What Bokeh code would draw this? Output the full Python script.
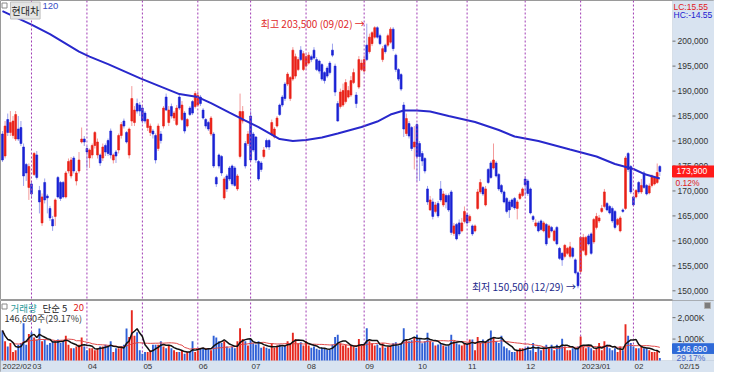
import numpy as np
import pandas as pd
from bokeh.plotting import figure
from bokeh.layouts import column
from bokeh.models import ColumnDataSource, Span, Label, Range1d, BoxAnnotation
from bokeh.embed import file_html
from bokeh.resources import INLINE

# ---------------- data (prices in thousand won, volume in thousand shares) ----------------
opens = [
 181.4,177.0,184.3,181.7,181.1,180.4,182.4,182.7,178.8,175.3,170.7,
 171.4,173.3,177.2,170.1,163.6,171.7,169.0,166.5,164.3,164.9,172.7,171.7,171.7,168.8,174.0,173.0,176.6,172.0,174.0,179.8,180.4,
 178.5,176.6,177.2,179.1,177.2,177.2,176.6,179.1,180.1,182.0,176.2,177.8,178.2,181.1,184.0,181.7,177.2,184.0,183.7,187.5,187.2,
 186.6,185.6,182.7,181.7,182.0,181.1,178.5,181.4,183.0,188.8,183.7,186.9,184.6,183.3,188.8,184.3,185.6,183.0,186.6,187.9,186.9,
 187.2,188.8,186.2,184.3,183.7,181.4,181.4,172.7,177.2,176.9,168.6,173.0,174.6,175.0,174.6,170.4,176.9,184.0,179.5,179.5,
 185.0,181.4,180.8,175.9,175.6,176.9,180.1,180.1,181.4,180.8,183.0,187.2,188.8,191.4,191.4,188.5,192.4,193.0,194.3,198.2,194.3,
 195.0,195.6,196.9,198.2,196.3,196.0,195.3,193.7,194.6,195.6,198.2,195.0,187.5,186.9,187.2,187.9,188.8,189.2,191.7,189.2,190.8,194.3,
 194.0,199.2,197.9,199.5,200.8,202.7,201.1,196.3,199.2,199.2,199.8,202.4,197.2,194.3,193.3,187.2,181.5,183.5,182.7,178.8,
 183.3,179.5,177.5,176.5,170.4,166.2,167.8,165.9,167.5,170.4,167.2,169.1,169.1,169.8,161.5,163.3,163.6,162.0,163.9,
 165.2,164.0,163.0,162.0,166.5,169.8,170.7,167.2,174.3,175.6,174.6,175.6,173.3,171.1,169.8,168.5,167.8,168.2,168.5,166.5,168.5,169.1,
 172.4,172.0,170.4,164.9,163.0,163.6,164.0,162.0,163.3,160.7,162.7,160.1,162.7,158.5,157.5,156.9,157.5,156.9,158.5,156.2,153.6,
 153.9,158.1,157.2,161.0,161.4,159.8,162.7,164.0,165.9,166.9,167.5,166.9,166.5,165.9,163.3,162.0,166.2,166.5,177.5,174.9,
 168.8,168.8,171.7,169.8,173.6,171.1,169.6,171.1,171.4,171.7,174.9]
highs = [
 182.0,184.0,185.5,186.0,185.0,186.0,185.0,184.0,179.5,175.6,175.5,
 172.0,177.8,178.0,171.0,169.5,172.5,169.4,167.0,165.0,168.5,173.0,172.0,172.0,174.0,176.5,176.8,177.0,174.0,177.8,182.7,181.0,
 179.0,178.5,179.5,182.0,180.5,177.5,179.5,179.5,180.5,182.5,177.5,178.2,181.5,183.8,184.5,182.0,182.7,191.0,187.0,188.5,187.8,
 187.0,186.0,184.5,183.5,182.4,181.5,183.5,182.0,187.0,189.5,187.0,187.5,186.0,187.2,189.5,188.0,186.0,184.6,187.0,188.2,190.0,
 190.0,189.2,186.6,184.6,184.0,185.0,181.8,173.0,177.5,177.2,172.8,173.4,175.0,175.3,175.0,173.4,189.5,187.0,180.0,182.0,
 186.0,181.8,181.0,176.2,176.0,178.8,180.5,180.4,184.3,182.8,185.0,187.5,189.2,191.8,193.8,193.0,198.8,197.5,196.8,199.0,198.0,
 197.5,197.8,197.3,198.8,196.8,196.3,195.6,194.0,195.0,196.0,199.5,195.5,188.0,190.5,191.5,192.4,191.0,193.0,194.5,189.8,197.0,196.3,
 197.2,203.5,201.5,202.0,203.0,203.0,201.5,199.0,199.5,201.5,202.8,202.8,197.5,194.6,193.6,187.8,185.5,184.0,183.0,183.0,
 183.6,180.0,178.0,176.8,171.0,169.0,168.5,167.8,168.0,172.0,170.0,169.5,169.5,170.2,163.6,163.6,164.3,164.6,166.9,
 165.6,165.3,163.3,163.3,170.4,172.4,171.0,171.0,174.6,176.0,179.5,176.0,173.6,171.4,170.1,168.8,168.2,168.5,168.8,168.2,169.8,170.7,
 173.0,172.4,170.7,165.2,164.3,164.0,164.3,164.0,163.6,163.3,163.0,162.3,163.0,158.8,157.8,159.4,158.8,159.8,158.8,156.5,153.9,
 161.0,161.4,161.0,161.4,161.7,164.6,165.6,165.2,167.2,170.4,167.8,167.2,166.9,166.2,164.6,165.0,166.5,177.0,177.8,175.2,
 169.1,170.4,172.0,172.4,174.0,171.4,171.5,173.3,173.0,175.5,175.2]
lows = [
 175.8,176.5,181.0,181.0,180.5,180.0,180.0,179.0,171.0,172.0,168.2,
 168.5,173.0,172.3,165.5,163.0,167.5,165.5,164.0,162.0,163.0,168.5,168.0,168.5,168.5,173.5,172.5,173.5,171.1,173.5,179.5,179.0,
 174.6,174.6,176.5,178.5,176.5,175.0,176.0,177.0,177.0,176.5,175.5,175.6,177.5,180.5,182.5,179.5,176.5,183.0,183.0,185.5,185.0,
 183.5,183.5,182.0,181.0,180.5,175.5,178.0,179.5,182.5,186.0,183.0,184.5,184.0,183.0,186.2,184.0,181.5,182.7,185.0,185.2,186.5,
 186.9,187.0,184.3,182.5,182.0,181.0,174.6,170.8,174.5,173.0,168.2,169.8,172.0,171.0,170.8,170.0,176.5,183.5,174.5,179.0,
 175.8,177.8,175.6,172.0,173.8,176.5,178.5,178.2,181.0,180.5,182.7,185.0,186.8,188.0,191.0,188.0,192.0,192.5,194.0,196.0,194.0,
 194.5,195.3,195.8,196.3,194.0,193.5,192.0,191.5,192.6,193.3,196.8,189.0,183.9,186.5,186.8,187.5,188.5,188.8,191.4,186.6,190.4,194.0,
 193.7,196.0,197.5,199.0,200.5,200.5,199.2,195.8,197.5,198.8,199.5,198.0,193.8,192.0,190.0,180.8,181.0,180.5,178.0,174.3,
 172.0,172.0,175.0,173.5,167.2,166.0,164.3,165.5,164.6,167.8,166.8,166.5,165.8,161.2,161.0,160.1,161.0,161.7,163.5,
 163.3,163.6,161.0,161.7,166.2,169.4,169.0,166.9,171.4,172.4,174.3,172.7,170.0,169.4,167.5,165.5,164.6,166.5,166.2,164.3,168.2,168.8,
 169.0,169.0,165.3,163.8,162.7,161.7,162.0,161.7,159.0,160.4,161.7,159.8,159.1,156.2,155.0,156.5,157.2,156.5,156.5,153.3,150.5,
 153.6,157.8,156.9,159.1,157.2,159.4,162.3,163.6,165.6,166.5,165.9,165.3,163.6,162.3,163.0,161.7,165.6,166.2,173.8,169.4,
 166.9,168.5,169.4,169.4,170.4,169.1,169.3,170.7,171.1,171.4,173.0]
closes = [
 176.2,183.0,181.7,183.7,184.0,185.3,180.4,179.5,173.0,173.6,174.9,
 169.4,177.5,172.7,167.8,168.8,168.2,168.6,164.6,163.0,168.2,168.8,168.5,168.8,173.6,175.9,176.2,174.0,173.6,176.2,180.4,179.8,
 177.8,178.2,179.1,181.7,179.8,175.6,178.8,177.8,177.5,177.2,177.2,177.0,181.1,183.3,183.0,179.8,182.4,188.5,186.2,186.0,186.0,
 184.0,184.0,184.3,183.0,181.4,176.2,183.0,180.1,186.6,186.2,186.2,185.0,185.6,186.6,186.6,187.2,182.0,184.3,185.3,185.6,189.5,
 189.1,187.5,184.6,183.0,182.4,184.6,175.0,171.4,175.0,173.6,172.4,170.4,172.4,171.4,171.1,173.0,185.9,185.9,175.0,181.4,
 176.2,178.2,176.2,172.4,174.3,178.2,178.8,178.8,183.7,182.4,184.6,185.3,187.2,188.5,193.4,192.7,198.2,196.9,196.3,196.3,197.5,
 196.9,197.2,196.3,196.6,194.3,194.0,192.4,192.1,193.0,193.7,197.2,189.8,184.0,189.8,190.1,191.7,190.1,192.1,193.7,187.5,196.3,195.6,
 196.3,196.3,200.8,201.7,202.7,200.8,199.5,198.5,197.9,201.1,202.4,198.5,194.3,192.4,190.4,182.4,184.5,181.0,178.5,179.8,
 176.9,176.9,176.0,174.0,167.8,168.2,164.9,167.2,165.0,168.2,169.4,167.8,166.2,161.7,163.0,160.4,161.4,163.6,165.9,
 163.6,164.9,161.4,163.0,169.8,171.7,169.4,170.4,171.7,172.7,176.2,173.0,170.4,169.8,167.8,165.9,166.2,166.9,166.6,167.8,169.4,170.4,
 171.2,169.5,165.6,164.3,163.6,162.0,162.3,163.6,159.4,163.0,162.0,162.0,159.4,156.5,156.2,159.1,158.5,158.8,156.9,153.6,151.0,
 160.7,160.7,160.7,159.4,157.5,164.3,164.9,164.6,166.5,169.8,166.2,165.6,164.0,162.7,164.3,164.6,165.9,176.6,174.3,169.8,
 167.2,170.1,169.8,171.1,170.7,169.4,171.0,173.0,172.7,173.7,173.9]
volumes = [
 1400,900,650,820,400,480,730,820,1740,730,1240,
 1320,1070,985,1490,900,985,730,820,900,900,985,820,900,1150,730,570,570,650,730,1070,650,
 480,570,570,480,570,650,650,730,650,900,400,570,570,650,730,1490,1100,2350,1150,1320,480,
 320,400,400,480,730,730,730,900,650,570,730,570,480,400,400,480,320,400,400,900,400,
 480,570,570,570,570,480,1150,1070,900,820,900,650,570,650,570,900,1500,1000,900,700,
 1000,800,750,900,600,650,600,550,800,600,700,750,650,700,900,800,1300,1000,800,850,700,
 900,700,600,650,550,500,600,550,500,500,750,1100,1200,800,700,750,600,700,650,600,1000,700,
 750,1500,900,800,700,750,600,800,600,650,700,800,850,700,800,1500,1000,900,950,1100,
 1200,1000,800,900,1300,900,850,700,750,800,700,650,700,1200,900,800,750,700,800,
 750,985,985,480,1100,820,985,900,985,1400,1070,900,820,1150,650,570,480,400,400,480,570,570,
 570,650,480,820,400,650,480,570,730,570,730,480,730,650,1020,650,480,480,570,570,650,
 1120,650,570,650,570,480,570,820,480,900,730,570,480,570,400,650,480,1690,1150,820,
 650,570,570,650,570,570,480,400,400,480,120]

# month starts (trading-day index) and their labels
month_start = [0, 11, 32, 53, 74, 94, 115, 137, 157, 176, 198, 219, 239]
month_labels = ["2022/02", "03", "04", "05", "06", "07", "08", "09", "10", "11", "12", "2023/01", "02"]
last_date_label = "02/15"

# 120-day moving average (index, thousand won)
ma120_idx = [0, 11, 18, 29, 33, 40, 52, 59, 67, 74, 79, 86, 92, 97, 105, 110, 115, 121, 127,
             136, 142, 147, 152, 157, 162, 169, 179, 188, 194, 203, 215, 225, 232, 239, 243, 249]
ma120_val = [206.0, 203.3, 201.4, 197.9, 196.9, 195.4, 192.6, 191.1, 189.4, 188.8, 187.6, 185.7, 184.1,
             182.8, 180.4, 180.0, 180.2, 180.7, 181.5, 182.8, 183.9, 185.3, 186.1, 186.1, 185.9, 185.0,
             183.8, 182.2, 180.9, 180.0, 178.3, 176.9, 175.4, 174.4, 173.4, 172.5]

price_ticks = [150000, 155000, 160000, 165000, 170000, 175000, 180000, 185000, 190000, 195000, 200000]
vol_ticks = [1000, 2000]
vol_tick_labels = ["1,000K", "2,000K"]

stock_name = "현대차"
ma_period_label = "120"
hi_text = "최고 203,500 (09/02) →"
lo_text = "최저 150,500 (12/29) →"
lc_text = "LC:15.55"
hc_text = "HC:-14.55"
last_price_text = "173,900"
last_change_text = "0.12%"
vol_title = ["거래량", "단순 5", "20"]
vol_sub = "146,690주(29.17%)"
last_vol_text = "146,690"
last_vol_pct = "29.17%"

assert len(opens) == len(highs) == len(lows) == len(closes) == len(volumes) == 250

# ---------------- layout constants ----------------
W = 714
PH = 300          # price panel height
VH = 72           # volume panel height (incl. date strip)
STRIP = 12        # date strip height
PLOT_W = 672      # width of the candle area; the rest is the axis panel
X0, X_AX = -0.74, 253.8
ux = (X_AX - X0) / PLOT_W
X1 = X0 + W * ux
Y0, Y1 = 148060, 208140
uy = (Y1 - Y0) / PH
VMAX = 2800
uv = VMAX / (VH - STRIP)
VB = -STRIP * uv

def sx(px):
    return X0 + px * ux

KFONT = "Noto Sans CJK KR"
NFONT = "Liberation Sans"
NSIZE = "8.5px"
PANEL = "#d8e3f0"
PANEL_LINE = "#a9b5c6"
RED = "#ea2118"
BLUE = "#1a22d4"
RED_W = "#f39a9a"
BLUE_W = "#9ea4ee"
VBLUE = "#2f5fd6"
VRED = "#e6281f"
MONTH = "#a03cb4"
TXT = "#333333"

o = np.array(opens) * 1000
h = np.array(highs) * 1000
l = np.array(lows) * 1000
c = np.array(closes) * 1000
v = np.array(volumes, dtype=float)
N = len(c)
idx = np.arange(N)
up = c >= o

src = ColumnDataSource(dict(
    x=idx, h=h, l=l, top=np.maximum(o, c), bot=np.minimum(o, c),
    col=np.where(up, RED, BLUE), wick=np.where(up, RED_W, BLUE_W),
    vol=v, vcol=np.where(up, VRED, VBLUE)))

xr = Range1d(X0, X1)

def base_fig(height, yr):
    f = figure(width=W, height=height, x_range=xr, y_range=yr,
               x_axis_location=None, y_axis_location=None,
               toolbar_location=None, output_backend="svg",
               min_border_left=0, min_border_top=0, min_border_bottom=0, min_border_right=0)
    f.background_fill_color = "white"
    f.border_fill_color = "white"
    f.outline_line_color = "#9a9a9a"
    f.grid.visible = False
    return f

# ---------------- price panel ----------------
p = base_fig(PH, Range1d(Y0, Y1))
p.add_layout(BoxAnnotation(left=X_AX, fill_color=PANEL, fill_alpha=1.0, line_color=PANEL_LINE,
                           line_width=1, level="underlay"))
for m in month_start[1:]:
    p.add_layout(Span(location=m, dimension="height", line_color=MONTH, line_dash="2 2", line_width=1))

p.segment(x0="x", y0="l", x1="x", y1="h", line_color="wick", line_width=1, source=src)
p.vbar(x="x", width=0.72, top="top", bottom="bot", fill_color="col", line_color="col",
       line_width=0.6, source=src)
p.line(ma120_idx, np.array(ma120_val) * 1000, line_color="#2828cc", line_width=2)

# right-hand price scale
p.segment(x0=[X_AX] * len(price_ticks), y0=price_ticks, x1=[X_AX + 3 * ux] * len(price_ticks),
          y1=price_ticks, line_color="#6f6f6f", line_width=1)
p.text(x=[X_AX] * len(price_ticks), y=price_ticks, text=[f"{t:,}" for t in price_ticks],
       x_offset=5, text_align="left", text_baseline="middle", text_color=TXT,
       text_font_size=NSIZE, text_font={"value": NFONT})

hi_i = int(np.argmax(h))
lo_i = int(np.argmin(l))
p.text(x=[hi_i], y=[h[hi_i]], text=[hi_text], text_align="right", text_baseline="middle",
       x_offset=-2, text_color="#e02a2a", text_font_size="10px", text_font={"value": KFONT})
p.text(x=[lo_i], y=[l[lo_i] + 1.5 * uy], text=[lo_text], text_align="right", text_baseline="middle",
       x_offset=-2, text_color="#1d2a8c", text_font_size="10px", text_font={"value": KFONT})

# header
p.scatter(x=[sx(4)], y=[Y1 - 5 * uy], marker="square", size=5, fill_color="white",
          line_color="#8a8a8a", line_width=1)
p.add_layout(Label(x=sx(10), y=Y1 - 1.5 * uy, text=stock_name, text_font=KFONT,
                   text_font_size="10px", text_color="#222222", text_baseline="top",
                   background_fill_color="#e4e4e4", border_line_color="#c2c2c2", padding=1))
p.text(x=[sx(42)], y=[Y1 - 2 * uy], text=[ma_period_label], text_baseline="top",
       text_color="#3b4fc4", text_font_size="9.5px", text_font={"value": NFONT})

p.text(x=[X_AX], y=[Y1 - 1 * uy], text=[lc_text], x_offset=1, text_baseline="top",
       text_color="#e02020", text_font_size=NSIZE, text_font={"value": NFONT})
p.text(x=[X_AX], y=[Y1 - 9.5 * uy], text=[hc_text], x_offset=1, text_baseline="top",
       text_color="#2020d0", text_font_size=NSIZE, text_font={"value": NFONT})

p.quad(left=[X_AX], right=[X1], bottom=[c[-1] - 5.5 * uy], top=[c[-1] + 5.5 * uy],
       fill_color="#ff1a1a", line_color="#ff1a1a")
p.text(x=[X_AX], y=[c[-1]], text=[last_price_text], x_offset=4, text_baseline="middle",
       text_color="white", text_font_size=NSIZE, text_font={"value": NFONT})
p.text(x=[X_AX], y=[c[-1] - 12 * uy], text=[last_change_text], x_offset=3, text_baseline="middle",
       text_color="#e02020", text_font_size=NSIZE, text_font={"value": NFONT})

# ---------------- volume panel ----------------
pv = base_fig(VH, Range1d(VB, VMAX))
pv.add_layout(BoxAnnotation(left=X_AX, fill_color=PANEL, fill_alpha=1.0, line_color=PANEL_LINE,
                            line_width=1, level="underlay"))
pv.add_layout(BoxAnnotation(top=0, fill_color=PANEL, fill_alpha=1.0, line_color=PANEL_LINE,
                            line_width=1, level="underlay"))
ms = month_start[1:]
pv.segment(x0=ms, y0=[0] * len(ms), x1=ms, y1=[VMAX] * len(ms), line_color=MONTH,
           line_dash="2 2", line_width=1)

pv.vbar(x="x", width=0.72, top="vol", bottom=0, fill_color="vcol", line_color=None, source=src)
ma5 = pd.Series(v).rolling(5, min_periods=1).mean().values
ma20 = pd.Series(v).rolling(20, min_periods=1).mean().values
pv.line(idx, ma20, line_color="#e04848", line_width=1)
pv.line(idx, ma5, line_color="#111111", line_width=1.5)

pv.segment(x0=[X_AX] * 2, y0=vol_ticks, x1=[X_AX + 3 * ux] * 2, y1=vol_ticks,
           line_color="#6f6f6f", line_width=1)
pv.text(x=[X_AX] * 2, y=vol_ticks, text=vol_tick_labels, x_offset=5, text_baseline="middle",
        text_color=TXT, text_font_size=NSIZE, text_font={"value": NFONT})

# date strip
lab_x = [sx(1)] + month_start[1:]
pv.text(x=lab_x, y=[VB / 2] * len(lab_x), text=month_labels, x_offset=1, text_baseline="middle",
        text_color=TXT, text_font_size="8px", text_font={"value": NFONT})
pv.text(x=[X_AX], y=[VB / 2], text=[last_date_label], x_offset=7, text_baseline="middle",
        text_color=TXT, text_font_size="8px", text_font={"value": NFONT})

# volume header
pv.scatter(x=[sx(4)], y=[VMAX - 6 * uv], marker="square", size=5, fill_color="white",
           line_color="#8a8a8a", line_width=1)
hx = [sx(10), sx(42), sx(73)]
pv.text(x=hx, y=[VMAX - 7 * uv] * 3, text=vol_title, text_baseline="middle",
        text_color=["#2a9a9a", "#222222", "#e02020"], text_font_size="9.5px",
        text_font={"value": KFONT})
pv.text(x=[sx(4)], y=[VMAX - 18 * uv], text=[vol_sub], text_baseline="middle",
        text_color=TXT, text_font_size="9px", text_font={"value": KFONT})

pv.scatter(x=[X1 - 7 * ux], y=[VMAX - 5 * uv], marker="square", size=6, fill_color="#7c7c7c",
           line_color="#b0b0b0", line_width=1)
pv.quad(left=[X_AX], right=[X1], bottom=[330], top=[780], fill_color="#2f6ad8", line_color="#2f6ad8")
pv.text(x=[X_AX], y=[555], text=[last_vol_text], x_offset=4, text_baseline="middle",
        text_color="white", text_font_size=NSIZE, text_font={"value": NFONT})
pv.text(x=[X_AX], y=[120], text=[last_vol_pct], x_offset=4, text_baseline="middle",
        text_color="#4a6ac8", text_font_size=NSIZE, text_font={"value": NFONT})

layout = column(p, pv, spacing=0)
open("out.html", "w").write(file_html(layout, INLINE))
